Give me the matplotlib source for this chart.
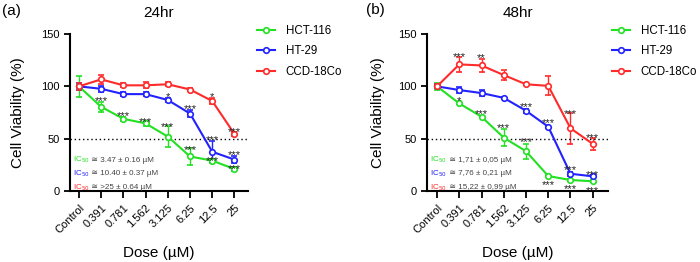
import matplotlib
matplotlib.use('Agg')
import matplotlib.pyplot as plt
from matplotlib.offsetbox import TextArea, HPacker, VPacker, AnnotationBbox
from matplotlib.lines import Line2D

plt.rcParams['font.family'] = ['Liberation Sans', 'DejaVu Sans']

doses = ['Control', '0.391', '0.781', '1.562', '3.125', '6.25', '12.5', '25']
lines = ['HCT-116', 'HT-29', 'CCD-18Co']
colors = ['#22e022', '#2222ff', '#ff2a2a']

# 24 hr
hct_24 = [100, 80.5, 69, 64.6, 52, 33, 29, 21]
hct_24_err = [10, 5, 2, 2, 10, 8, 2, 2]
ht_24 = [100, 97.7, 92.6, 92.6, 87, 74, 37.5, 30]
ht_24_err = [3, 3, 2, 2, 2, 3, 10, 3]
ccd_24 = [100, 106.7, 101, 101, 102, 97, 86, 54.5]
ccd_24_err = [3, 4, 2, 3, 2, 1, 3, 2]

# 48 hr
hct_48 = [100, 83.7, 71, 51, 38, 14.3, 10.5, 9.3]
hct_48_err = [3, 1, 1, 8, 7, 1, 1, 1]
ht_48 = [100, 96.5, 93.6, 89, 76.7, 61.4, 16.5, 14]
ht_48_err = [2, 3, 3, 1, 2, 1, 2, 1]
ccd_48 = [100, 121, 120, 110.8, 102, 100.5, 60, 45]
ccd_48_err = [2, 7, 6, 5, 1, 9, 15, 6]

# significance marks and their offset from the mean
hct_24_sig = ['', '***', '***', '***', '***', '***', '***', '***']
hct_24_off = [0, 8.5, 6, 5, 13, 10, 3.5, 3]
ht_24_sig = ['', '', '', '', '*', '***', '***', '***']
ht_24_off = [0, 0, 0, 0, 6, 7.5, 14.5, 7.5]
ccd_24_sig = ['', '', '', '', '', '', '*', '***']
ccd_24_off = [0, 0, 0, 0, 0, 0, 7, 5.5]

hct_48_sig = ['', '*', '***', '***', '***', '***', '***', '***']
hct_48_off = [0, 5.5, 6, 13, 12, -5, -5, -6]
ht_48_sig = ['', '', '', '', '***', '***', '***', '***']
ht_48_off = [0, 0, 0, 0, 7, 6.5, 6.5, 5]
ccd_48_sig = ['', '***', '**', '', '', '', '***', '***']
ccd_48_off = [0, 10.5, 10, 0, 0, 0, 16.7, 9]

ic50_24 = ['\u2245 3.47 \u00b1 0.16 \u00b5M', '\u2245 10.40 \u00b1 0.37 \u00b5M', '\u2245 >25 \u00b1 0.64 \u00b5M']
ic50_48 = ['\u2245 1,71 \u00b1 0,05 \u00b5M', '\u2245 7,76 \u00b1 0,21 \u00b5M', '\u2245 15,22 \u00b1 0,99 \u00b5M']


def draw_panel(ax, vals, errs, sigs, offs, ic50, title):
    x = list(range(len(doses)))
    for v, e, c in zip(vals, errs, colors):
        ax.errorbar(x, v, yerr=e, color=c, lw=1.5, elinewidth=1, capsize=2.5,
                    capthick=1, marker='o', ms=4, mfc='white', mec=c, mew=1.2)
    for v, s, o in zip(vals, sigs, offs):
        for i in range(len(x)):
            if s[i]:
                ax.text(x[i], v[i] + o[i] - 6.3, s[i], ha='center', va='baseline',
                        fontsize=8, color='#222222')
    ax.axhline(50, color='black', ls=(0, (1, 2)), lw=1)
    ax.set_ylim(0, 150)
    ax.set_yticks([0, 50, 100, 150])
    ax.set_xticks(x)
    ax.set_xticklabels(doses, rotation=45, ha='right', rotation_mode='anchor', fontsize=8)
    ax.tick_params(axis='y', labelsize=8, width=1.3, length=4)
    ax.tick_params(axis='x', width=1.3, length=5)
    for sp in ['top', 'right']:
        ax.spines[sp].set_visible(False)
    for sp in ['left', 'bottom']:
        ax.spines[sp].set_linewidth(1.5)
    ax.set_title(title, fontsize=11, pad=12)
    ax.set_ylabel('Cell Viability (%)', fontsize=11)
    ax.set_xlabel('Dose (\u00b5M)', fontsize=11)
    ax.xaxis.set_label_coords(0.5, -0.35)

    rows = []
    for txt, c in zip(ic50, colors):
        a = TextArea('IC$_{50}$', textprops=dict(color=c, fontsize=5.8))
        b = TextArea(' ' + txt, textprops=dict(color='#444444', fontsize=5.8))
        rows.append(HPacker(children=[a, b], align='baseline', pad=0, sep=0))
    box = VPacker(children=rows, align='left', pad=0, sep=2.3)
    ab = AnnotationBbox(box, (0.015, 0.11), xycoords='axes fraction',
                        box_alignment=(0, 0.5), frameon=False, pad=0)
    ax.add_artist(ab)


fig = plt.figure(figsize=(7, 2.62), dpi=100)
ax1 = fig.add_axes([0.1, 0.271, 0.254, 0.599])
ax2 = fig.add_axes([0.61, 0.271, 0.259, 0.599])

draw_panel(ax1, [hct_24, ht_24, ccd_24], [hct_24_err, ht_24_err, ccd_24_err],
           [hct_24_sig, ht_24_sig, ccd_24_sig], [hct_24_off, ht_24_off, ccd_24_off],
           ic50_24, '24hr')
draw_panel(ax2, [hct_48, ht_48, ccd_48], [hct_48_err, ht_48_err, ccd_48_err],
           [hct_48_sig, ht_48_sig, ccd_48_sig], [hct_48_off, ht_48_off, ccd_48_off],
           ic50_48, '48hr')
ax1.set_xlim(-0.4, 7.6)
ax2.set_xlim(-0.45, 7.7)
ax1.yaxis.set_label_coords(-0.253, 0.5)
ax2.yaxis.set_label_coords(-0.232, 0.5)

handles = [Line2D([], [], color=c, lw=1.5, marker='o', ms=4, mfc='white', mec=c, mew=1.2)
           for c in colors]
for ax, x0 in [(ax1, 257), (ax2, 612)]:
    ax.legend(handles, lines, loc='upper left', bbox_to_anchor=(x0 / 700, 1 - 25 / 262),
              bbox_transform=fig.transFigure, frameon=False, fontsize=8.3,
              borderpad=0, borderaxespad=0, handlelength=1.6, handletextpad=0.9,
              labelspacing=0.72, numpoints=1)

fig.text(2 / 700, 1 - 11 / 262, '(a)', fontsize=11, va='center')
fig.text(366 / 700, 1 - 10 / 262, '(b)', fontsize=11, va='center')

plt.savefig('out.png', dpi=100)
plt.close()
